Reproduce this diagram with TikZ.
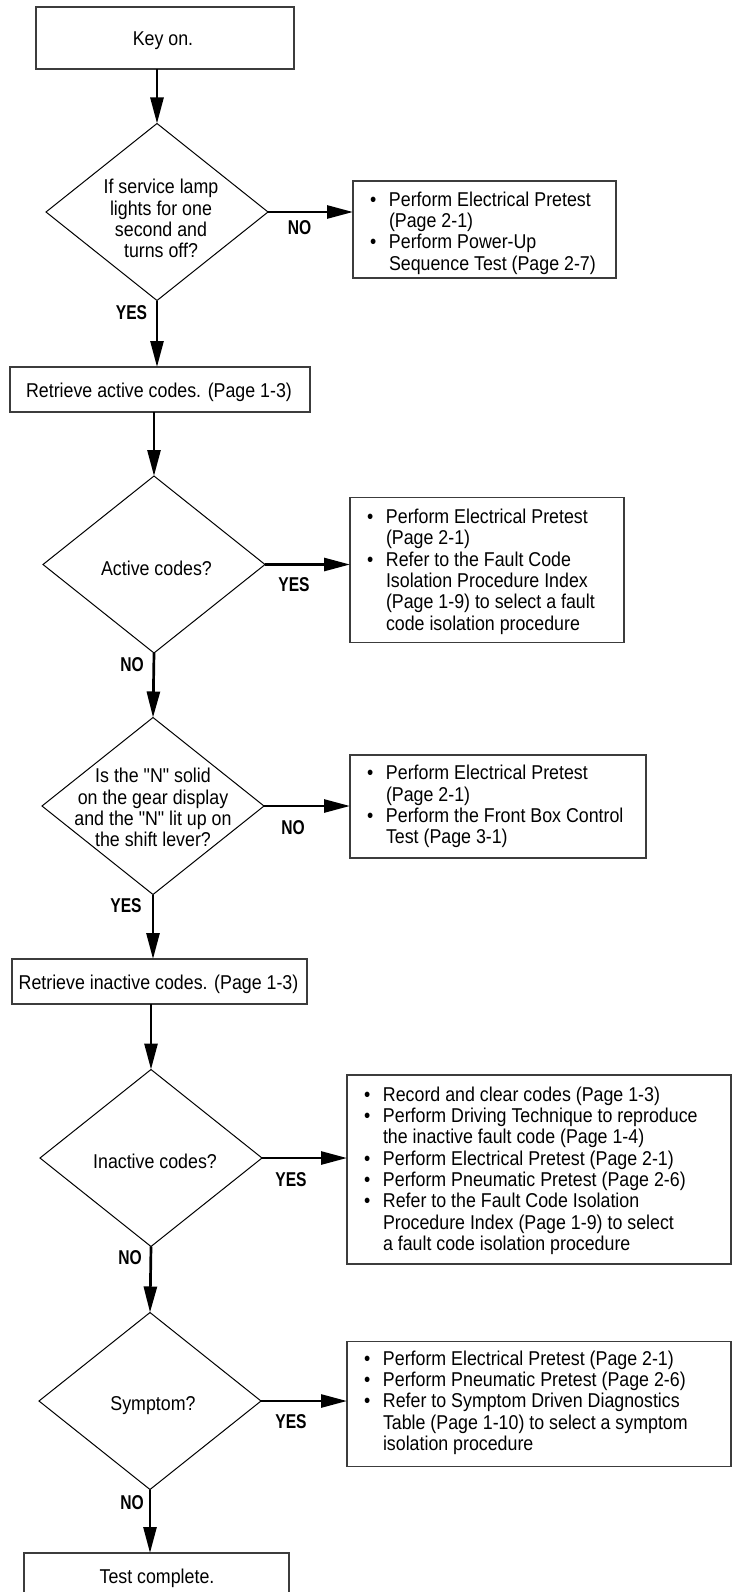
\documentclass[tikz,border=0pt]{standalone}
\usepackage{fontspec}
\setmainfont{Liberation Sans}[FakeStretch=0.89, Ligatures=TeXOff]
\newfontfamily\lblfont{Liberation Sans}[FakeStretch=0.78]
\usetikzlibrary{shapes.geometric,arrows.meta}
\definecolor{boxline}{HTML}{3C3C3C}
\newcommand\bulmark{\makebox[19pt][l]{\textbullet}}
\tikzset{
  box/.style={draw=boxline, line width=1.3pt, rectangle, inner sep=0pt, outer sep=0pt},
  dia/.style={draw=black, line width=1pt, diamond, inner sep=0pt, outer sep=0pt, minimum width=222pt, minimum height=177pt},
  txt/.style={inner sep=0pt, outer sep=0pt, font=\fontsize{20}{21.3}\selectfont},
  lbl/.style={inner sep=0pt, outer sep=0pt, font=\lblfont\bfseries\fontsize{20}{21.3}\selectfont},
  arr/.style={line width=2.7pt, -{Triangle[length=26pt,width=13pt]}},
}
\begin{document}
\begin{tikzpicture}[x=1pt,y=-1pt]
\useasboundingbox (0,0) rectangle (732,1592);
\clip (0,0) rectangle (732,1592);

% Key on
\node[box, minimum width=258pt, minimum height=62pt] (keyon) at (165,38) {};
\node[txt] (keyonT) at (163,41) {\begin{tabular}{@{}c@{}}Key on.\end{tabular}};

% Diamond 1
\node[dia] (d1) at (157,212) {};
\node[txt] (d1T) at (161,221.5) {\begin{tabular}{@{}c@{}}If service lamp\\lights for one\\second and\\turns off?\end{tabular}};
\node[box, minimum width=263pt, minimum height=97pt] (b1) at (484.5,229.5) {};
\node[txt, anchor=west] (b1T) at (370,234) {\begin{tabular}{@{}l@{}l@{}}\bulmark & Perform Electrical Pretest\\ & (Page 2-1)\\ \bulmark & Perform Power-Up\\ & Sequence Test (Page 2-7)\end{tabular}};
\node[lbl] (l1n) at (299.5,228) {NO};
\node[lbl] (l1y) at (131.5,313) {YES};

% Retrieve active
\node[box, minimum width=300pt, minimum height=45pt] (ra) at (160,389.5) {};
\node[txt] (raT) at (159,393) {\begin{tabular}{@{}c@{}}Retrieve active codes. (Page 1-3)\end{tabular}};

% Diamond 2
\node[dia] (d2) at (154,564.5) {};
\node[txt] (d2T) at (156.5,571) {\begin{tabular}{@{}c@{}}Active codes?\end{tabular}};
\node[box, minimum width=274pt, minimum height=145pt] (b2) at (487,570) {};
\node[txt, anchor=west] (b2T) at (367,572.5) {\begin{tabular}{@{}l@{}l@{}}\bulmark & Perform Electrical Pretest\\ & (Page 2-1)\\ \bulmark & Refer to the Fault Code\\ & Isolation Procedure Index\\ & (Page 1-9) to select a fault\\ & code isolation procedure\end{tabular}};
\node[lbl] (l2y) at (294,585) {YES};
\node[lbl] (l2n) at (132,665) {NO};

% Diamond 3
\node[dia] (d3) at (153,806) {};
\node[txt] (d3T) at (153,810.5) {\begin{tabular}{@{}c@{}}Is the "N" solid\\on the gear display\\and the "N" lit up on\\the shift lever?\end{tabular}};
\node[box, minimum width=296pt, minimum height=103pt] (b3) at (498,806.5) {};
\node[txt, anchor=west] (b3T) at (367,807.5) {\begin{tabular}{@{}l@{}l@{}}\bulmark & Perform Electrical Pretest\\ & (Page 2-1)\\ \bulmark & Perform the Front Box Control\\ & Test (Page 3-1)\end{tabular}};
\node[lbl] (l3n) at (293,828) {NO};
\node[lbl] (l3y) at (126,906) {YES};

% Retrieve inactive
\node[box, minimum width=295pt, minimum height=45pt] (ri) at (159.5,981.5) {};
\node[txt] (riT) at (158.5,985) {\begin{tabular}{@{}c@{}}Retrieve inactive codes. (Page 1-3)\end{tabular}};

% Diamond 4
\node[dia] (d4) at (151,1158) {};
\node[txt] (d4T) at (155,1164) {\begin{tabular}{@{}c@{}}Inactive codes?\end{tabular}};
\node[box, minimum width=384pt, minimum height=189pt] (b4) at (539,1169.5) {};
\node[txt, anchor=west] (b4T) at (364,1171.5) {\begin{tabular}{@{}l@{}l@{}}\bulmark & Record and clear codes (Page 1-3)\\ \bulmark & Perform Driving Technique to reproduce\\ & the inactive fault code (Page 1-4)\\ \bulmark & Perform Electrical Pretest (Page 2-1)\\ \bulmark & Perform Pneumatic Pretest (Page 2-6)\\ \bulmark & Refer to the Fault Code Isolation\\ & Procedure Index (Page 1-9) to select\\ & a fault code isolation procedure\end{tabular}};
\node[lbl] (l4y) at (291,1180) {YES};
\node[lbl] (l4n) at (130,1258) {NO};

% Diamond 5
\node[dia] (d5) at (150,1401) {};
\node[txt] (d5T) at (153,1406) {\begin{tabular}{@{}c@{}}Symptom?\end{tabular}};
\node[box, minimum width=384pt, minimum height=124.5pt] (b5) at (539,1404) {};
\node[txt, anchor=west] (b5T) at (364,1403.5) {\begin{tabular}{@{}l@{}l@{}}\bulmark & Perform Electrical Pretest (Page 2-1)\\ \bulmark & Perform Pneumatic Pretest (Page 2-6)\\ \bulmark & Refer to Symptom Driven Diagnostics\\ & Table (Page 1-10) to select a symptom\\ & isolation procedure\end{tabular}};
\node[lbl] (l5y) at (291,1422) {YES};
\node[lbl] (l5n) at (132,1503) {NO};

% Test complete
\node[box, minimum width=265pt, minimum height=46pt] (tc) at (156.5,1576) {};
\node[txt] (tcT) at (157,1579) {\begin{tabular}{@{}c@{}}Test complete.\end{tabular}};

% Connectors
\draw[arr] (keyon.south -| d1.north) -- (d1.north);
\draw[arr] (d1.east) -- (b1.west |- d1.east);
\draw[arr] (d1.south) -- (ra.north -| d1.south);
\draw[arr] (ra.south -| d2.north) -- (d2.north);
\draw[arr] (d2.east) -- (b2.west |- d2.east);
\draw[arr] (d2.south) -- (d3.north);
\draw[arr] (d3.east) -- (b3.west |- d3.east);
\draw[arr] (d3.south) -- (ri.north -| d3.south);
\draw[arr] (ri.south -| d4.north) -- (d4.north);
\draw[arr] (d4.east) -- (b4.west |- d4.east);
\draw[arr] (d4.south) -- (d5.north);
\draw[arr] (d5.east) -- (b5.west |- d5.east);
\draw[arr] (d5.south) -- (tc.north -| d5.south);
\end{tikzpicture}
\end{document}
